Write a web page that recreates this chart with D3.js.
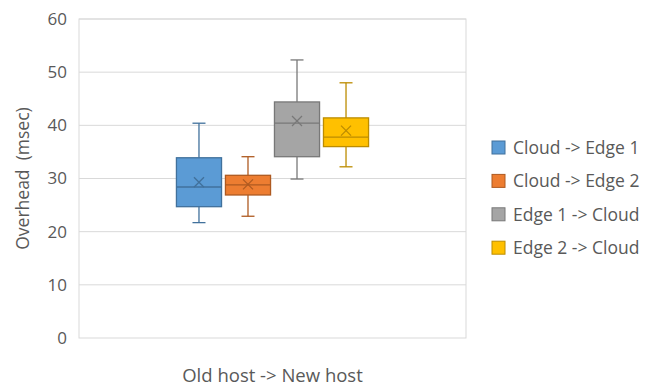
<!DOCTYPE html>
<html><head><meta charset="utf-8">
<script src="https://cdn.jsdelivr.net/npm/d3@7"></script>
<style>body{margin:0;background:#fff;} text{font-family:"Open Sans",sans-serif;fill:#595959;}</style>
</head><body>
<svg id="c" width="645" height="388"></svg>
<script>
const categories = ["Old host -> New host"];
const seriesNames = ["Cloud -> Edge 1","Cloud -> Edge 2","Edge 1 -> Cloud","Edge 2 -> Cloud"];
const whiskerLow = [21.7, 22.9, 29.9, 32.2];
const q1 = [24.7, 26.9, 34.1, 36.0];
const medians = [28.4, 28.8, 40.4, 37.8];
const q3 = [33.9, 30.6, 44.4, 41.4];
const whiskerHigh = [40.4, 34.1, 52.3, 48.0];
const means = [29.3, 28.9, 40.8, 39.0];
const fills = ["#5B9BD5","#ED7D31","#A5A5A5","#FFC000"];
const strokes = ["#41719C","#AE5A21","#787878","#BC8C00"];
const yTicks = [0,10,20,30,40,50,60];

const svg = d3.select("#c");
const L=79, R=466, T=19, B=338;
const y = d3.scaleLinear().domain([0,60]).range([B,T]);
const x0 = d3.scaleBand().domain(categories).range([L,R]).paddingOuter(0.487).paddingInner(0);
const x1 = d3.scaleBand().domain(seriesNames).range([0,x0.bandwidth()]).paddingInner(0.08).paddingOuter(0.04);

// gridlines
svg.append("g").selectAll("line").data(yTicks.filter(d=>d>0)).join("line")
  .attr("x1",L).attr("x2",R).attr("y1",d=>y(d)).attr("y2",d=>y(d))
  .attr("stroke","#D9D9D9").attr("stroke-width",1);
// frame
svg.append("rect").attr("x",L).attr("y",T).attr("width",R-L).attr("height",B-T)
  .attr("fill","none").attr("stroke","#D9D9D9").attr("stroke-width",1);

// y axis labels
const ya = svg.append("g").attr("transform",`translate(${L},0)`)
  .call(d3.axisLeft(y).tickValues(yTicks).tickSize(0).tickPadding(12));
ya.select(".domain").remove();
ya.selectAll("text").style("font-size","17px").style("font-family","'Open Sans',sans-serif").attr("fill","#595959");

// x axis label
const xa = svg.append("g").attr("transform",`translate(0,${B})`)
  .call(d3.axisBottom(x0).tickSize(0));
xa.select(".domain").remove();
xa.selectAll("text").attr("dy",null).attr("y",44).style("font-size","18.5px").style("font-family","'Open Sans',sans-serif").attr("fill","#595959");

// y title
svg.append("text").attr("transform",`translate(29,${(T+B)/2}) rotate(-90)`)
  .attr("text-anchor","middle").style("font-size","17.5px").attr("xml:space","preserve").text("Overhead  (msec)");

// boxes
const data = seriesNames.map((s,i)=>({s,i,lo:whiskerLow[i],q1:q1[i],med:medians[i],q3:q3[i],hi:whiskerHigh[i],mean:means[i]}));
const g = svg.append("g");
data.forEach(d=>{
  const bx = x0(categories[0]) + x1(d.s);
  const w = x1.bandwidth();
  const cx = bx + w/2;
  const cap = 6.5;
  const gg = g.append("g").attr("stroke",strokes[d.i]).attr("stroke-width",1.3);
  gg.append("line").attr("x1",cx).attr("x2",cx).attr("y1",y(d.hi)).attr("y2",y(d.q3));
  gg.append("line").attr("x1",cx).attr("x2",cx).attr("y1",y(d.q1)).attr("y2",y(d.lo));
  gg.append("line").attr("x1",cx-cap).attr("x2",cx+cap).attr("y1",y(d.hi)).attr("y2",y(d.hi));
  gg.append("line").attr("x1",cx-cap).attr("x2",cx+cap).attr("y1",y(d.lo)).attr("y2",y(d.lo));
  gg.append("rect").attr("x",bx).attr("y",y(d.q3)).attr("width",w).attr("height",y(d.q1)-y(d.q3)).attr("fill",fills[d.i]);
  gg.append("line").attr("x1",bx).attr("x2",bx+w).attr("y1",y(d.med)).attr("y2",y(d.med));
  const m=5, my=y(d.mean);
  gg.append("line").attr("x1",cx-m).attr("x2",cx+m).attr("y1",my-m).attr("y2",my+m);
  gg.append("line").attr("x1",cx-m).attr("x2",cx+m).attr("y1",my+m).attr("y2",my-m);
});

// legend
const lg = svg.append("g").selectAll("g").data(seriesNames).join("g")
  .attr("transform",(d,i)=>`translate(492,${141 + i*33.4})`);
lg.append("rect").attr("width",13).attr("height",13).attr("fill",(d,i)=>fills[i]).attr("stroke",(d,i)=>strokes[i]).attr("stroke-width",1);
lg.append("text").attr("x",21).attr("y",13).style("font-size","17.5px").text(d=>d);
</script>
</body></html>
